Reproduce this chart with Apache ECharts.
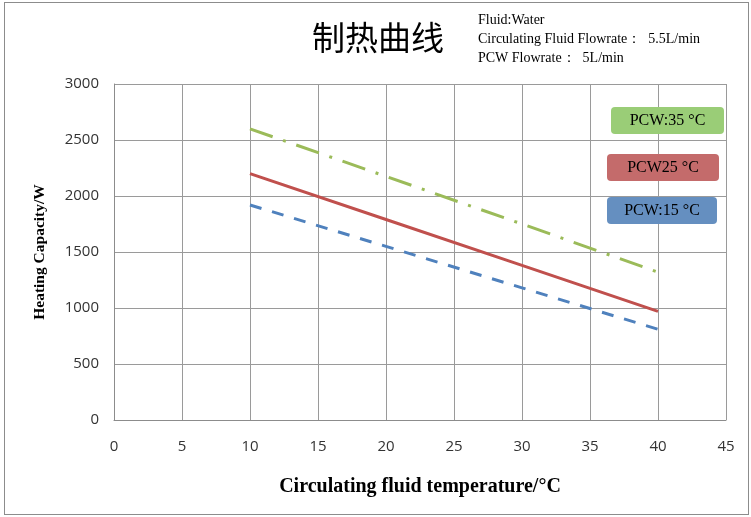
<!DOCTYPE html>
<html>
<head>
<meta charset="utf-8">
<script src="https://cdn.jsdelivr.net/npm/echarts@6/dist/echarts.min.js"></script>
<style>
  html, body { margin: 0; padding: 0; background: #fff; }
  #frame { position: absolute; left: 4px; top: 2px; width: 745px; height: 513px; border: 1px solid #8c8c8c; box-sizing: border-box; }
  #main { width: 751px; height: 517px; }
</style>
</head>
<body>
<div id="frame"></div>
<div id="main"></div>
<script>
// circulating fluid temperature (°C)
var temps = [10, 20, 30, 40]
// heating capacity (W) per PCW temperature
var pcw35 = [2600, 2175, 1750, 1320]
var pcw25 = [2200, 1790, 1380, 970]
var pcw15 = [1920, 1550, 1180, 810]

var seriesNames = ['PCW:35°C', 'PCW25°C', 'PCW:15°C']
var boxLabels = ['PCW:35 °C', 'PCW25 °C', 'PCW:15 °C']
var colors = ['#9BBB59', '#C0504D', '#4F81BD']
var boxColors = ['#9ACD77', '#C46B6B', '#658FC0']

var subText = ['Fluid:Water', 'Circulating Fluid Flowrate：  5.5L/min', 'PCW Flowrate：  5L/min']

function pairs(ys) {
  return temps.map(function (t, i) { return [t, ys[i]] })
}

var chart = echarts.init(document.getElementById('main'))

var boxes = [
  { x: 611, y: 107, w: 113 },
  { x: 607, y: 154, w: 112 },
  { x: 607, y: 197, w: 110 }
]
var graphics = []
boxes.forEach(function (b, i) {
  graphics.push({
    type: 'rect', left: b.x, top: b.y, z: 10,
    shape: { width: b.w, height: 27, r: 4 },
    style: { fill: boxColors[i] }
  })
  graphics.push({
    type: 'text', z: 11,
    x: b.x + b.w / 2, y: b.y + 14,
    style: { text: boxLabels[i], fill: '#000', font: '16px "Liberation Serif"', align: 'center', verticalAlign: 'middle' }
  })
})
subText.forEach(function (s, i) {
  graphics.push({
    type: 'text', left: 478, top: 13 + i * 19,
    style: { text: s, fill: '#000', font: '14px "Liberation Serif"' }
  })
})
graphics.push({
  type: 'text', left: 312, top: 21,
  style: { text: '制热曲线', fill: '#000', font: '33px "Noto Sans CJK SC"' }
})

chart.setOption({
  animation: false,
  grid: { left: 114, right: 25, top: 84, bottom: 97 },
  xAxis: {
    type: 'value', min: 0, max: 45, interval: 5,
    name: 'Circulating fluid temperature/°C',
    nameLocation: 'middle', nameGap: 57,
    nameTextStyle: { color: '#000', fontFamily: 'Liberation Serif', fontWeight: 'bold', fontSize: 20 },
    axisLine: { show: true, lineStyle: { color: '#8c8c8c' } },
    axisTick: { show: false },
    axisLabel: { color: '#333', fontFamily: 'Open Sans', fontSize: 15, margin: 19 },
    splitLine: { show: true, lineStyle: { color: '#9a9a9a', width: 1 } }
  },
  yAxis: {
    type: 'value', min: 0, max: 3000, interval: 500,
    name: 'Heating Capacity/W',
    nameLocation: 'middle', nameGap: 66,
    nameTextStyle: { color: '#000', fontFamily: 'Liberation Serif', fontWeight: 'bold', fontSize: 15.5 },
    axisLine: { show: true, lineStyle: { color: '#8c8c8c' } },
    axisTick: { show: false },
    axisLabel: { color: '#333', fontFamily: 'Open Sans', fontSize: 15, margin: 15, formatter: function (v) { return String(v) } },
    splitLine: { show: true, lineStyle: { color: '#9a9a9a', width: 1 } }
  },
  series: [
    {
      name: seriesNames[0], type: 'line', data: pairs(pcw35), symbol: 'none',
      lineStyle: { color: colors[0], width: 3, type: [24, 11, 3, 11] }
    },
    {
      name: seriesNames[1], type: 'line', data: pairs(pcw25), symbol: 'none',
      lineStyle: { color: colors[1], width: 3 }
    },
    {
      name: seriesNames[2], type: 'line', data: pairs(pcw15), symbol: 'none',
      lineStyle: { color: colors[2], width: 3, type: [12, 11] }
    }
  ],
  graphic: graphics
})
</script>
</body>
</html>
